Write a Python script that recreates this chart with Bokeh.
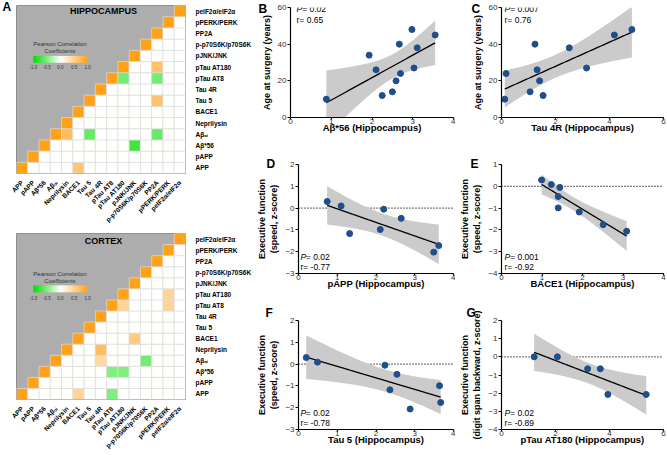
import numpy as np
from bokeh.plotting import figure
from bokeh.layouts import row, column
from bokeh.models import FactorRange, Range1d, LinearColorMapper, Label, Span, FixedTicker, ColumnDataSource
from bokeh.embed import file_html
from bokeh.resources import INLINE

FONT = "Liberation Sans"

# ---------------- data ----------------
markers = ["APP", "pAPP", "Aβ*56", "Aβₒᵢ", "Neprilysin", "BACE1", "Tau 5", "Tau 4R",
           "pTau AT8", "pTau AT180", "pJNK/JNK", "p-p70S6K/p70S6K", "PP2A",
           "pPERK/PERK", "peIF2α/eIF2α"]

hip_row = ["APP", "Aβ*56", "Aβₒᵢ", "Aβₒᵢ", "Aβₒᵢ", "Tau 5", "pTau AT8", "pTau AT8", "pTau AT180"]
hip_col = ["BACE1", "pJNK/JNK", "Neprilysin", "Tau 5", "PP2A", "PP2A", "pTau AT180", "PP2A", "PP2A"]
hip_r = [0.6, -0.75, 0.7, -0.6, -0.6, 0.65, -0.55, -0.55, 0.65]

ctx_row = ["APP", "APP", "Aβ*56", "Aβ*56", "Aβₒᵢ", "Aβₒᵢ", "Neprilysin", "BACE1",
           "pTau AT8", "pTau AT8", "pTau AT180"]
ctx_col = ["BACE1", "pTau AT8", "pTau AT8", "pTau AT180", "Tau 4R", "p-p70S6K/p70S6K",
           "Tau 4R", "pJNK/JNK", "pTau AT180", "pPERK/PERK", "pPERK/PERK"]
ctx_r = [0.45, -0.5, -0.5, -0.5, 0.4, -0.55, 0.7, 0.55, 0.45, 0.45, 0.45]

cbar_ticks = ["-1.0", "-0.5", "0.0", "0.5", "1.0"]

b_x = [0.88, 1.93, 2.10, 2.25, 2.50, 2.59, 2.67, 2.70, 2.98, 3.03, 3.11, 3.55]
b_y = [10, 34, 26, 12, 14, 20, 40, 24, 48, 27, 38, 45]
c_x = [0.12, 0.17, 1.06, 1.24, 1.32, 1.41, 1.54, 2.51, 3.15, 4.18, 4.83]
c_y = [10, 24, 14, 40, 26, 20, 12, 38, 27, 45, 48]
d_x = [0.74, 1.10, 1.32, 2.11, 2.20, 2.65, 3.49, 3.62]
d_y = [0.30, 0.10, -1.17, -0.98, -0.05, -0.47, -2.02, -1.72]
e_x = [0.99, 1.23, 1.44, 1.40, 1.40, 1.92, 2.51, 3.09]
e_y = [0.29, 0.08, -0.05, -0.47, -0.99, -1.18, -1.76, -2.06]
f_x = [0.20, 0.49, 2.23, 2.36, 2.54, 2.88, 3.64, 3.67]
f_y = [0.30, 0.09, -0.05, -1.18, -0.47, -2.06, -0.99, -1.76]
g_x = [1.21, 2.07, 3.19, 3.66, 3.94, 5.36]
g_y = [0.0, 0.0, -0.66, -0.66, -2.07, -2.07]

ticks_04 = [0, 1, 2, 3, 4]
ticks_06 = [0, 2, 4, 6]
ticks_age = [0, 20, 40, 60]
ticks_m3_2 = [-3, -2, -1, 0, 1, 2]
ticks_m4_1 = [-4, -3, -2, -1, 0, 1]
ticks_m4_2 = [-4, -3, -2, -1, 0, 1, 2]

T975 = {4: 2.776, 6: 2.447, 9: 2.262, 10: 2.228}

# ---------------- colour map ----------------
def lerp(c1, c2, t):
    return "#%02x%02x%02x" % tuple(int(round(a + (b - a) * t)) for a, b in zip(c1, c2))

WHITE = (255, 255, 255)
GREEN = (0, 222, 0)
ORANGE = (255, 162, 24)
palette = []
for i in range(256):
    v = -1 + 2 * i / 255
    palette.append(lerp(WHITE, GREEN, -v) if v < 0 else lerp(WHITE, ORANGE, v))
mapper = LinearColorMapper(palette=palette, low=-1, high=1)


def lab(p, x, y, text, size, style="normal", align="left", baseline="middle", color="black"):
    p.add_layout(Label(x=x, y=y, text=text,
                       text_font=FONT, text_font_size=size, text_font_style=style,
                       text_align=align, text_baseline=baseline, text_color=color))


def panel_letter(p, letter, offset, standoff):
    p.title.text = letter
    p.title.align = "left"
    p.title.vertical_align = "bottom"
    p.title.offset = offset
    p.title.standoff = standoff
    p.title.text_font = FONT
    p.title.text_font_size = "12px"
    p.title.text_font_style = "bold"
    p.title.text_color = "black"


# ---------------- heatmaps ----------------
def heatmap(title, rows, cols, rs, height, mbt, mbb, cb, title_dy, letter=None):
    FW = 171
    FH = height - mbt - mbb
    px = lambda v: v * 15 / FW          # pixels from frame left -> plot units
    py = lambda v: (FH - v) * 15 / FH   # pixels below frame top -> plot units
    p = figure(width=254, height=height, x_range=FactorRange(*markers),
               y_range=FactorRange(*markers), y_axis_location="right",
               toolbar_location=None, output_backend="svg",
               min_border_left=16, min_border_right=254 - 16 - FW,
               min_border_top=mbt, min_border_bottom=mbb)
    p.background_fill_color = "#adadad"
    p.border_fill_color = "white"
    p.outline_line_color = "#8f8f8f"
    p.outline_line_width = 1
    p.grid.visible = False
    lookup = {(r, c): v for r, c, v in zip(rows, cols, rs)}
    xs, ys, vs = [], [], []
    for i, rname in enumerate(markers):
        for j, cname in enumerate(markers):
            if j >= i:
                xs.append(cname)
                ys.append(rname)
                vs.append(1.0 if i == j else lookup.get((rname, cname), 0.0))
    src = ColumnDataSource(dict(x=xs, y=ys, v=vs))
    p.rect(x="x", y="y", width=1, height=1, source=src,
           fill_color={"field": "v", "transform": mapper},
           line_color="#dedede", line_width=0.7)
    for ax in (p.xaxis[0], p.yaxis[0]):
        ax.axis_line_color = None
        ax.major_tick_line_color = None
        ax.minor_tick_line_color = None
        ax.major_label_text_font = FONT
        ax.major_label_text_font_style = "bold"
        ax.major_label_text_font_size = "6.5px"
        ax.major_label_text_color = "black"
    p.xaxis.major_label_orientation = np.pi / 4
    p.xaxis.major_label_standoff = 2
    p.yaxis.major_label_standoff = 4

    # colour bar (gradient image in the plot's own coordinates)
    t1, t2, b_top, b_bot, tk = cb
    bx0, bx1 = 17, 72
    grad = np.linspace(-1, 1, 256).reshape(1, -1)
    p.image(image=[grad], x=px(bx0), y=py(b_bot), dw=px(bx1) - px(bx0),
            dh=py(b_top) - py(b_bot), color_mapper=mapper)
    lab(p, px(44), py(t1), "Pearson Correlation", "6px", align="center", color="#333333")
    lab(p, px(44), py(t2), "Coefficients", "6px", align="center", color="#333333")
    for k, t in enumerate(cbar_ticks):
        lab(p, px(bx0 + k * (bx1 - bx0) / 4), py(tk), t, "4.5px", align="center", color="#333333")
    lab(p, px(88), py(title_dy), title, "9px", style="bold", align="center")
    if letter:
        panel_letter(p, letter, -14, -16)
    return p


hip = heatmap("HIPPOCAMPUS", hip_row, hip_col, hip_r, 228, 5, 53,
              (39, 46, 51, 58, 62.5), 6, letter="A")
ctx = heatmap("CORTEX", ctx_row, ctx_col, ctx_r, 226, 5, 49,
              (42, 48.7, 53.7, 61, 67), 7.5)


# ---------------- scatter panels ----------------
def panel(w, h, mbl, mbr, mbt, mbb, xend, ylo, yhi, xticks, yticks, xs, ys,
          xlabel, ylabel, letter, loff, lstand, ptxt, rtxt, sx, pdy, rdy, zero):
    FW = w - mbl - mbr
    FH = h - mbt - mbb
    px = lambda v: v * xend / FW
    py = lambda v: yhi - v * (yhi - ylo) / FH      # pixels below frame top
    p = figure(width=w, height=h, x_range=Range1d(0, xend), y_range=Range1d(ylo, yhi),
               toolbar_location=None, output_backend="svg",
               min_border_left=mbl, min_border_right=mbr, min_border_top=mbt, min_border_bottom=mbb)
    p.outline_line_color = None
    p.grid.visible = False
    p.border_fill_color = "white"
    x = np.array(xs, dtype=float)
    y = np.array(ys, dtype=float)
    n = len(x)
    slope, icpt = np.polyfit(x, y, 1)
    gx = np.linspace(x.min(), x.max(), 120)
    fit = icpt + slope * gx
    s = np.sqrt(np.sum((y - (icpt + slope * x)) ** 2) / (n - 2))
    sxx = np.sum((x - x.mean()) ** 2)
    half = T975[n - 2] * s * np.sqrt(1 / n + (gx - x.mean()) ** 2 / sxx)
    p.varea(x=gx, y1=fit - half, y2=fit + half, fill_color="#cbcbcb")
    if zero:
        p.add_layout(Span(location=0, dimension="width", line_color="black",
                          line_dash="1 2", line_width=1.2, level="underlay"))
    p.line(gx, fit, line_color="black", line_width=1.3)
    p.scatter(x, y, size=6, fill_color="#1f4e8c", line_color="#1f4e8c")

    p.xaxis.ticker = FixedTicker(ticks=xticks)
    p.yaxis.ticker = FixedTicker(ticks=yticks)
    p.xaxis.axis_label = xlabel
    p.yaxis.axis_label = ylabel
    for ax in p.axis:
        ax.axis_line_color = "black"
        ax.axis_line_width = 1.2
        ax.major_tick_line_color = "black"
        ax.major_tick_line_width = 1.2
        ax.major_tick_out = 3
        ax.major_tick_in = 0
        ax.minor_tick_line_color = None
        ax.major_label_text_font = FONT
        ax.major_label_text_font_size = "8px"
        ax.major_label_text_color = "#333333"
        ax.axis_label_text_font = FONT
        ax.axis_label_text_font_style = "bold"
        ax.axis_label_text_color = "black"
    p.xaxis.axis_label_text_font_size = "9.5px"
    p.yaxis.axis_label_text_font_size = "9px"
    p.xaxis.major_tick_out = 2
    p.xaxis.major_label_standoff = -1
    p.xaxis.axis_label_standoff = -5
    p.yaxis.major_label_standoff = 1
    p.yaxis.axis_label_standoff = 3

    panel_letter(p, letter, loff, lstand)
    lab(p, px(sx), py(pdy), "P", "8.5px", style="italic")
    lab(p, px(sx + 5.7), py(pdy), ptxt, "8.5px")
    lab(p, px(sx), py(rdy), rtxt, "8.5px")
    return p


AGE = "Age at surgery (years)"
EXS = "Executive function\n(speed, z-score)"
EXD = "Executive function\n(digit span backward, z-score)"

# letter: offset from frame left, title standoff; stats: pixels from frame left / below frame top
pb = panel(201, 145, 36, 2, 7, 28, 4, 0, 60, ticks_04, ticks_age, b_x, b_y,
           "Aβ*56 (Hippocampus)", AGE, "B", -32, -16, "= 0.02", "r= 0.65", 6, 1.5, 12, False)
pc = panel(211, 145, 46, 3, 7, 28, 6, 0, 60, ticks_06, ticks_age, c_x, c_y,
           "Tau 4R (Hippocampus)", AGE, "C", -30, -16, "= 0.007", "r= 0.76", 3, 1.5, 12, False)
pd = panel(201, 153, 36, 2, 18, 25, 4, -3, 2, ticks_04, ticks_m3_2, d_x, d_y,
           "pAPP (Hippocampus)", EXS, "D", -32, -12, "= 0.02", "r= -0.77", 2, 93, 103, True)
pe = panel(211, 153, 46, 3, 19, 25, 4, -4, 1, ticks_04, ticks_m4_1, e_x, e_y,
           "BACE1 (Hippocampus)", EXS, "E", -31, -12, "= 0.001", "r= -0.92", 3, 92, 102, True)
pf = panel(201, 156, 36, 2, 22, 25, 4, -3, 2, ticks_04, ticks_m3_2, f_x, f_y,
           "Tau 5 (Hippocampus)", EXS, "F", -33, 2, "= 0.02", "r= -0.78", 2, 92, 102, True)
pg = panel(211, 156, 46, 3, 22, 25, 6, -4, 2, ticks_06, ticks_m4_2, g_x, g_y,
           "pTau AT180 (Hippocampus)", EXD, "G", -35, 2, "= 0.02", "r= -0.89", 3, 92, 102, True)

layout = row(column(hip, ctx), column(row(pb, pc), row(pd, pe), row(pf, pg)))

open("out.html", "w").write(file_html(layout, INLINE))
